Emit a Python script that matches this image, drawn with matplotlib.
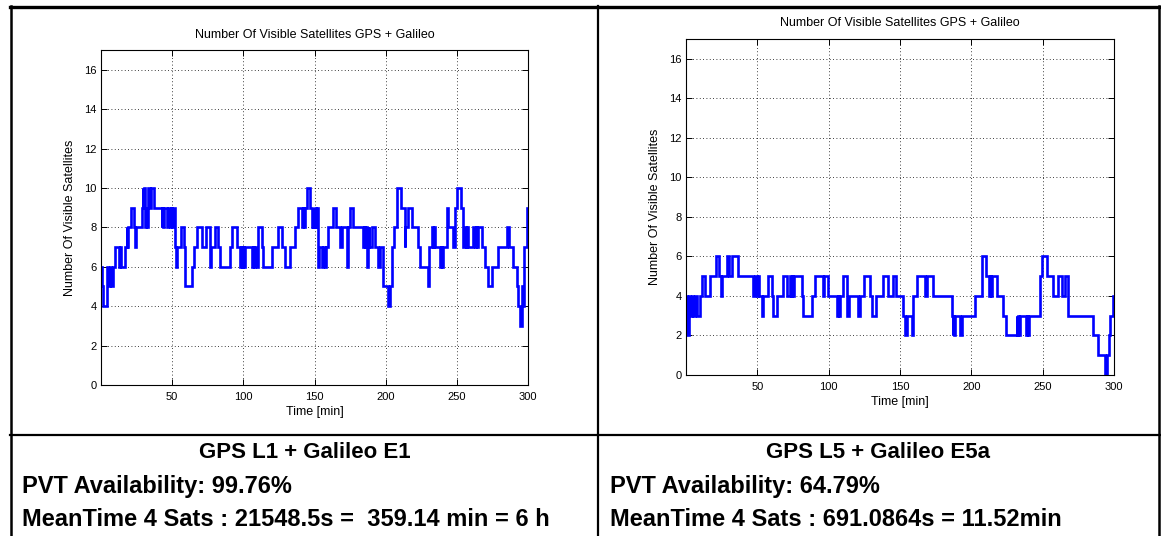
import matplotlib
matplotlib.use("Agg")
import matplotlib.pyplot as plt
from matplotlib.lines import Line2D

plt.rcParams['font.family'] = ['Liberation Sans', 'DejaVu Sans']

# ---------------- data ----------------
title_text = "Number Of Visible Satellites GPS + Galileo"
xlabel_text = "Time [min]"
ylabel_text = "Number Of Visible Satellites"
x_ticks = [50, 100, 150, 200, 250, 300]
y_ticks = [0, 2, 4, 6, 8, 10, 12, 14, 16]

# GPS L1 + Galileo E1 : change points (time in minutes, satellites)
l1_time = [0, 0.7, 1.3, 4.2, 5.2, 6.3, 7.3, 8.5, 9.8, 12.3, 13.0, 13.8, 17.0, 18.0, 18.6, 19.2,
           21.0, 22.9, 23.6, 24.3, 28.6, 29.2, 29.8, 30.4, 31.0, 31.6, 32.2, 32.8, 33.3, 34.6,
           35.2, 37.5, 42.6, 43.2, 43.8, 44.4, 46.5, 47.1, 48.5, 49.1, 49.7, 50.3, 52.0, 52.8,
           53.4, 56.0, 58.0, 59.0, 63.7, 65.6, 67.2, 71.2, 73.6, 76.6, 77.6, 79.8, 82.0, 83.6,
           90.6, 91.8, 95.3, 97.7, 98.3, 99.0, 99.8, 100.5, 101.2, 105.9, 106.6, 107.3, 108.2,
           109.4, 110.6, 112.9, 114.0, 120.0, 124.6, 127.0, 129.3, 132.8, 136.3, 138.7, 141.0,
           141.8, 142.6, 143.4, 144.5, 146.9, 148.0, 148.6, 149.2, 150.4, 151.2, 152.0, 152.7,
           153.5, 155.2, 155.8, 157.3, 157.9, 159.8, 163.3, 165.2, 168.0, 169.1, 172.6, 173.8,
           175.0, 177.3, 184.4, 185.0, 185.6, 186.2, 186.8, 187.4, 188.0, 188.6, 190.2, 192.6,
           194.9, 196.0, 198.4, 201.9, 203.0, 204.8, 206.2, 207.8, 210.8, 213.3, 213.9, 216.0,
           218.3, 223.0, 224.2, 229.6, 230.5, 232.4, 233.6, 234.1, 234.7, 238.2, 238.8, 239.4,
           240.0, 243.0, 244.1, 247.6, 248.8, 250.0, 253.0, 254.6, 255.8, 256.5, 257.2, 258.1,
           261.7, 262.6, 263.2, 264.3, 264.9, 267.5, 269.9, 272.2, 275.0, 279.2, 285.1, 286.3,
           289.8, 292.1, 293.3, 294.4, 295.6, 296.4, 297.5, 299.1, 299.6, 300]
l1_sats = [6, 5, 4, 6, 5, 6, 5, 6, 7, 6, 7, 6, 7, 8, 7, 8,
           9, 8, 7, 8, 9, 10, 9, 10, 8, 9, 8, 9, 10, 9,
           10, 9, 8, 9, 8, 9, 8, 9, 8, 9, 8, 9, 7, 6,
           7, 8, 7, 5, 6, 7, 8, 7, 8, 6, 7, 8, 7, 6,
           7, 8, 7, 6, 7, 6, 7, 6, 7, 6, 7, 6, 7,
           6, 8, 7, 6, 7, 8, 7, 6, 7, 8, 9, 8,
           9, 8, 9, 10, 9, 8, 9, 8, 9, 8, 9, 6,
           7, 6, 7, 6, 7, 8, 9, 8, 7, 8, 6, 8,
           9, 8, 7, 8, 7, 8, 6, 7, 8, 7, 8, 7,
           6, 7, 5, 4, 5, 7, 8, 10, 9, 7, 8, 9,
           8, 7, 6, 5, 7, 8, 7, 8, 7, 6, 7, 6,
           7, 9, 8, 7, 9, 10, 9, 7, 8, 7, 8, 7,
           8, 7, 8, 7, 8, 7, 6, 5, 6, 7, 8, 7,
           6, 5, 4, 3, 5, 4, 7, 8, 9, 9]

# GPS L5 + Galileo E5a : change points (time in minutes, satellites)
l5_time = [0, 0.9, 2.3, 2.8, 4.0, 5.2, 6.4, 7.6, 9.8, 11.0, 13.3, 16.8, 21.0, 23.4, 24.8, 25.4,
           28.5, 30.4, 32.0, 36.7, 47.2, 48.4, 49.5, 50.7, 51.3, 53.0, 53.8, 57.7, 60.0, 61.2,
           63.5, 68.2, 70.6, 73.0, 73.6, 74.2, 74.9, 75.5, 81.1, 82.3, 88.1, 90.4, 96.0, 96.6,
           99.7, 105.6, 106.4, 107.2, 108.0, 110.3, 112.6, 114.2, 120.8, 122.0, 125.0, 129.0,
           130.1, 132.9, 138.3, 141.8, 145.3, 147.0, 152.3, 153.5, 154.6, 158.2, 159.3, 161.7,
           167.5, 168.7, 173.3, 186.2, 186.8, 187.4, 188.0, 188.5, 192.0, 193.2, 202.5, 207.2,
           210.2, 212.5, 213.1, 213.7, 214.5, 217.7, 222.4, 224.2, 231.7, 232.3, 233.0, 233.5,
           234.0, 238.3, 238.9, 239.5, 240.2, 248.0, 249.2, 252.7, 257.4, 260.9, 263.3, 265.6,
           267.9, 285.4, 289.0, 293.6, 295.3, 296.2, 297.1, 299.0, 300]
l5_sats = [4, 2, 4, 3, 4, 3, 4, 3, 4, 5, 4, 5, 6, 5, 4, 5,
           6, 5, 6, 5, 4, 5, 4, 5, 4, 3, 4, 5, 4, 3,
           4, 5, 4, 5, 4, 5, 4, 5, 4, 3, 4, 5, 4, 5,
           4, 3, 4, 3, 4, 5, 3, 4, 3, 4, 5, 4,
           3, 4, 5, 4, 5, 4, 3, 2, 3, 2, 4, 5,
           4, 5, 4, 3, 2, 3, 2, 3, 2, 3, 4, 6,
           5, 4, 5, 4, 5, 4, 3, 2, 3, 2, 3, 2,
           3, 2, 3, 2, 3, 5, 6, 5, 4, 5, 4, 5,
           3, 2, 1, 0, 1, 2, 3, 4, 4]

left_caption = ["GPS L1 + Galileo E1", "PVT Availability: 99.76%",
                "MeanTime 4 Sats : 21548.5s =  359.14 min = 6 h"]
right_caption = ["GPS L5 + Galileo E5a", "PVT Availability: 64.79%",
                 "MeanTime 4 Sats : 691.0864s = 11.52min"]

# ---------------- figure ----------------
W, H = 1161, 536
fig = plt.figure(figsize=(W / 100, H / 100), dpi=100)
fig.patch.set_facecolor("white")


def px_axes(x0, y0, x1, y1):
    return fig.add_axes([x0 / W, 1 - y1 / H, (x1 - x0) / W, (y1 - y0) / H])


def style(ax, t, v):
    ax.plot(t, v, drawstyle="steps-post", color="#0000ff", lw=1.9, solid_joinstyle="miter")
    ax.set_xlim(0, 300)
    ax.set_ylim(0, 17)
    ax.set_xticks(x_ticks)
    ax.set_yticks(y_ticks)
    ax.tick_params(direction="in", length=4, width=0.7, top=True, right=True,
                   labelsize=8, pad=3)
    ax.tick_params(axis="x", pad=5)
    ax.grid(True, linestyle=(0, (1, 3)), color="black", linewidth=0.6)
    for s in ax.spines.values():
        s.set_linewidth(0.8)
    ax.set_title(title_text, fontsize=9, pad=9)
    ax.set_xlabel(xlabel_text, fontsize=9, labelpad=3)
    ax.set_ylabel(ylabel_text, fontsize=9, labelpad=6)


axL = px_axes(101, 50, 528, 385)
style(axL, l1_time, l1_sats)
axR = px_axes(686, 39, 1114, 375)
style(axR, l5_time, l5_sats)


# table frame
def hline(y, x0, x1, lw):
    fig.add_artist(Line2D([x0 / W, x1 / W], [1 - y / H, 1 - y / H], color="black",
                          lw=lw, transform=fig.transFigure))


def vline(x, y0, y1, lw):
    fig.add_artist(Line2D([x / W, x / W], [1 - y0 / H, 1 - y1 / H], color="black",
                          lw=lw, transform=fig.transFigure))


hline(7, 10, 1161, 2.4)
hline(435, 10, 1161, 1.6)
vline(11, 6, 536, 1.8)
vline(598, 6, 536, 1.6)
vline(1159, 6, 536, 1.8)

for cap, xc, xl in [(left_caption, 305, 22), (right_caption, 878, 610)]:
    fig.text(xc / W, 1 - 452 / H, cap[0], ha="center", va="center",
             fontsize=16, fontweight="bold")
    fig.text(xl / W, 1 - 486 / H, cap[1], ha="left", va="center",
             fontsize=17, fontweight="bold")
    fig.text(xl / W, 1 - 520 / H, cap[2], ha="left", va="center",
             fontsize=17, fontweight="bold")

fig.savefig("out.png", dpi=100)
